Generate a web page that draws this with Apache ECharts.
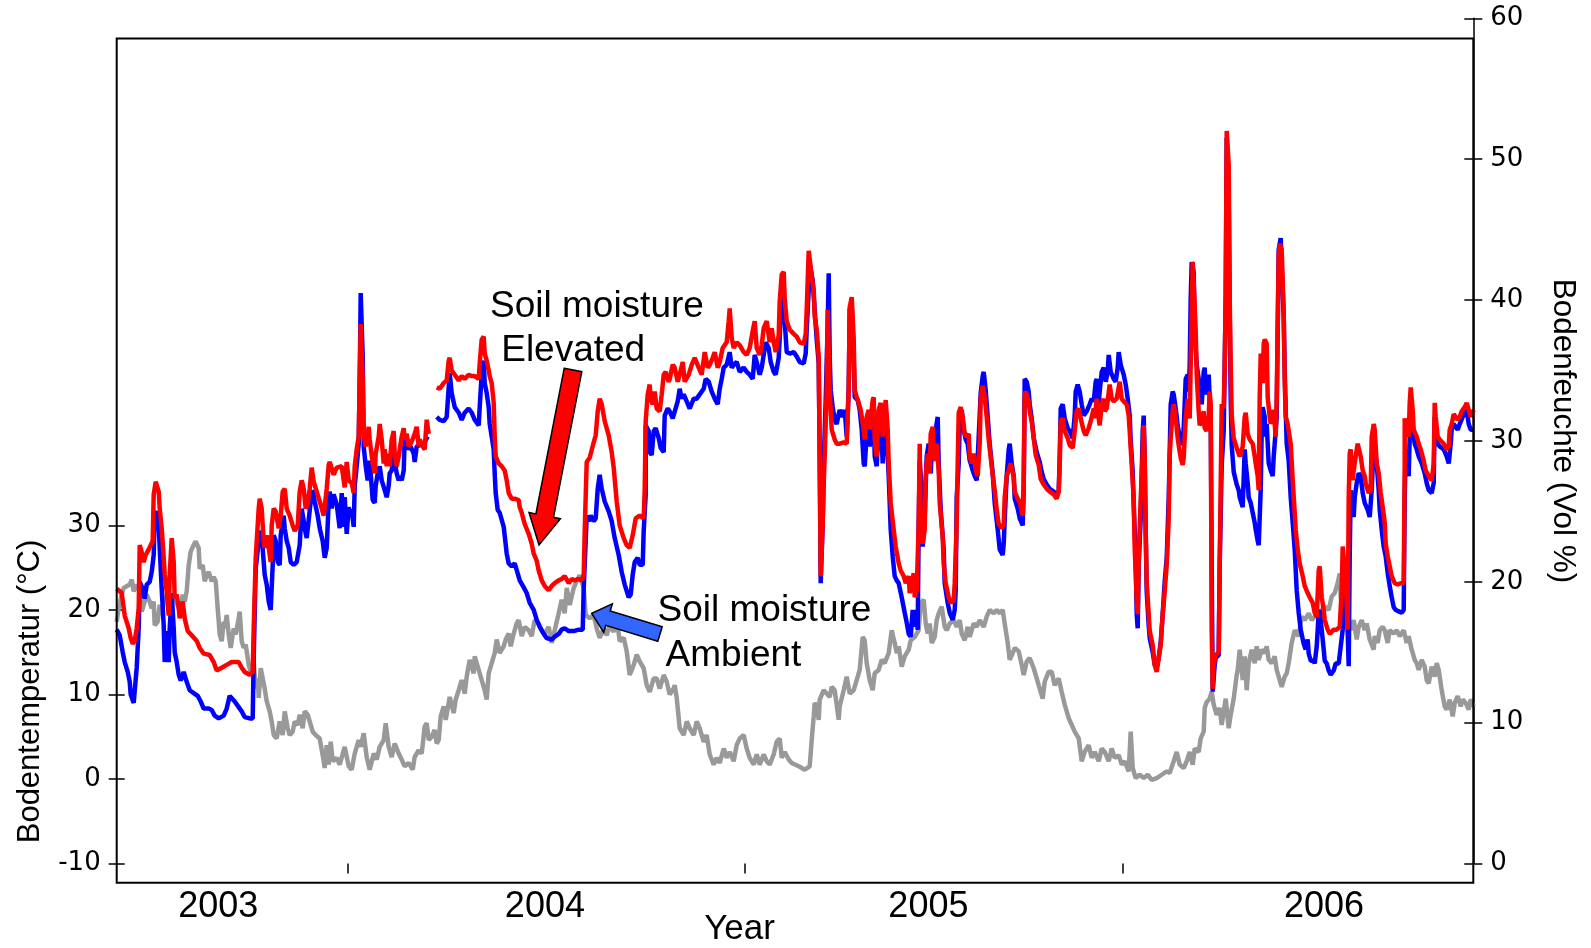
<!DOCTYPE html>
<html>
<head>
<meta charset="utf-8">
<script src="https://cdn.jsdelivr.net/npm/echarts@6/dist/echarts.min.js"></script>
<style>
  html, body { margin: 0; padding: 0; background: #fff; }
  #chart { width: 1591px; height: 948px; }
</style>
</head>
<body>
<div id="chart"></div>
<script>
// x = day index from start of record
const yearTickDays = [231.3, 628.1, 1006.5];
const yearLabelDays = [101.5, 428.2, 811.7, 1207.4];
const yearNames = ['2003', '2004', '2005', '2006'];
const tempTicks = [-10, 0, 10, 20, 30];

// soil temperature (°C), left axis
const soilTemp = [
  [0,18.6],[2,20.2],[5,21.8],[7,22.6],[10,22.8],[13,23.0],[15,23.6],[17,22.2],[20,23.0],[23,22.2],[25,19.8],[27,20.6],
  [30,21.8],[33,21.0],[35,20.2],[37,21.0],[38,18.2],[41,18.6],[43,20.6],[45,19.4],[47,21.0],[50,21.8],[53,20.6],[55,21.4],
  [57,21.8],[59,21.2],[62,20.2],[64,20.6],[66,21.8],[68,21.0],[70,22.2],[72,25.3],[74,26.9],[77,27.7],[79,28.1],[82,27.3],
  [83,24.9],[86,25.3],[88,23.4],[90,24.1],[92,24.5],[95,23.4],[97,23.9],[99,23.4],[101,20.2],[103,17.1],[105,16.3],[107,18.6],
  [108,17.8],[110,19.4],[112,17.1],[114,15.5],[117,17.8],[119,17.1],[122,19.0],[123,19.8],[125,16.3],[127,15.5],[129,15.9],
  [132,13.5],[134,12.7],[137,13.9],[139,10.7],[141,11.9],[142,9.6],[144,13.1],[146,13.3],[148,10.7],[150,9.2],[153,8.0],
  [155,6.8],[157,5.2],[160,4.8],[163,6.8],[166,5.2],[168,8.0],[171,6.0],[173,5.2],[176,5.6],[178,6.8],[181,6.4],[183,7.6],
  [186,6.0],[188,8.0],[191,7.6],[193,6.8],[196,5.6],[199,5.2],[203,4.8],[207,2.1],[208,1.3],[210,4.0],[212,1.7],[214,4.4],
  [216,2.1],[220,2.5],[223,1.7],[225,1.9],[228,3.8],[232,1.5],[235,1.1],[238,3.0],[242,4.6],[244,3.8],[247,5.4],[250,2.6],
  [253,1.1],[257,3.0],[260,2.3],[263,3.8],[267,4.6],[269,6.6],[272,3.8],[275,2.6],[278,4.2],[282,3.0],[285,2.3],[288,1.5],
  [292,1.9],[296,1.1],[298,2.6],[302,3.4],[305,3.0],[308,6.2],[310,6.6],[312,4.6],[315,5.0],[318,5.8],[320,4.2],[322,4.6],
  [324,7.4],[327,8.6],[329,7.0],[332,9.0],[333,9.7],[337,7.8],[339,9.4],[342,10.5],[345,11.7],[348,10.1],[350,12.1],
  [353,14.1],[357,12.5],[358,14.5],[362,12.9],[365,11.7],[368,10.5],[370,9.4],[372,12.5],[375,13.7],[378,14.9],[380,16.5],
  [383,14.9],[387,15.7],[389,16.5],[392,17.2],[394,15.7],[397,17.2],[400,18.4],[402,18.8],[405,16.9],[408,18.0],[412,17.6],
  [415,16.9],[418,18.8],[422,18.4],[425,17.6],[428,17.2],[432,18.0],[435,16.1],[438,17.6],[442,19.6],[445,21.2],[448,19.6],
  [450,22.6],[453,20.6],[457,22.6],[460,23.4],[463,24.1],[467,22.6],[469,19.4],[473,19.0],[477,19.4],[480,17.8],[483,16.7],
  [487,17.8],[490,17.0],[493,18.2],[497,17.4],[500,19.0],[503,16.3],[507,16.7],[510,15.1],[513,12.3],[517,13.5],[520,14.7],
  [523,13.9],[527,13.1],[530,11.1],[533,10.3],[537,11.9],[540,11.9],[543,10.7],[547,12.3],[550,11.5],[553,10.0],[557,10.7],
  [558,11.1],[560,9.6],[563,6.0],[567,5.2],[570,6.8],[573,6.0],[577,5.2],[580,6.8],[583,6.0],[587,4.4],[590,5.2],[593,2.9],
  [597,1.7],[600,2.5],[603,1.9],[607,3.6],[610,2.5],[613,3.2],[617,2.1],[620,4.0],[623,4.8],[627,5.2],[630,3.6],[633,2.5],
  [637,1.7],[640,2.9],[643,1.7],[647,2.9],[650,2.1],[653,1.7],[657,2.9],[660,4.4],[663,4.8],[665,2.5],[668,3.2],[672,2.3],
  [675,1.9],[682,1.5],[688,1.1],[693,1.5],[695,4.6],[697,7.4],[698,9.0],[700,8.6],[702,7.0],[703,9.4],[707,10.5],[710,10.1],
  [713,9.7],[715,10.9],[718,10.5],[722,7.0],[723,8.6],[727,10.5],[730,12.1],[733,10.1],[737,10.5],[740,11.7],[743,12.9],
  [746,16.8],[748,16.4],[750,13.7],[753,11.7],[756,10.5],[758,12.5],[762,12.9],[765,14.1],[768,13.7],[772,14.9],[775,17.6],
  [778,16.1],[780,14.9],[782,15.7],[785,13.3],[788,14.5],[792,15.3],[794,16.4],[798,16.8],[802,17.6],[804,20.8],[807,21.2],
  [809,18.4],[811,17.2],[813,18.4],[815,16.1],[818,16.8],[820,18.8],[822,19.6],[825,20.4],[828,18.0],[830,17.6],[833,18.4],
  [837,18.8],[840,18.0],[843,18.8],[845,17.2],[848,16.4],[851,18.0],[853,16.8],[857,18.4],[860,18.0],[863,18.8],[867,18.0],
  [870,19.2],[873,20.0],[877,19.6],[880,20.0],[883,19.6],[886,20.0],[888,18.4],[891,16.1],[893,14.1],[896,14.9],[898,15.5],
  [902,15.1],[905,13.5],[907,12.3],[910,13.9],[913,14.3],[917,13.1],[920,11.9],[923,10.7],[926,9.5],[928,11.5],[932,12.7],
  [935,12.7],[938,11.1],[942,11.9],[945,10.3],[948,8.8],[952,7.2],[955,6.4],[958,5.6],[962,4.8],[965,2.1],[968,3.2],[972,4.0],
  [975,2.5],[978,3.2],[982,2.1],[985,3.6],[988,3.2],[992,2.1],[995,3.6],[998,2.5],[1002,2.8],[1005,1.7],[1008,2.1],
  [1012,0.9],[1014,5.6],[1016,1.3],[1019,0.1],[1023,0.5],[1027,0.1],[1031,0.5],[1035,-0.1],[1040,0.1],[1045,0.5],[1050,0.9],
  [1053,0.7],[1057,2.1],[1060,3.2],[1063,1.7],[1067,1.3],[1070,2.1],[1073,3.2],[1076,1.7],[1078,3.6],[1082,3.2],[1084,4.8],
  [1087,5.6],[1088,8.4],[1090,9.1],[1093,9.5],[1095,10.3],[1097,8.8],[1100,7.6],[1103,8.4],[1105,6.4],[1107,8.0],[1109,9.5],
  [1112,6.0],[1114,7.6],[1117,9.5],[1120,12.3],[1121,12.9],[1123,15.3],[1126,11.7],[1128,14.5],[1130,10.5],[1132,13.7],
  [1135,15.3],[1138,13.7],[1140,15.7],[1142,14.1],[1145,15.3],[1148,14.9],[1150,15.7],[1152,14.1],[1155,13.7],[1158,14.5],
  [1160,12.9],[1162,12.1],[1165,10.9],[1168,12.1],[1170,12.5],[1172,13.7],[1175,16.1],[1178,17.6],[1180,17.6],[1182,16.9],
  [1185,19.2],[1188,18.8],[1192,19.6],[1195,18.8],[1198,19.2],[1202,19.6],[1205,20.0],[1208,20.4],[1212,20.0],[1215,21.6],
  [1218,22.0],[1221,23.2],[1223,24.3],[1224,21.6],[1227,18.8],[1229,19.6],[1232,18.4],[1234,17.6],[1237,18.8],[1240,16.5],
  [1242,18.0],[1245,18.8],[1248,17.6],[1250,18.4],[1253,16.5],[1257,15.3],[1258,16.9],[1261,16.1],[1263,17.6],[1266,18.0],
  [1268,17.6],[1271,16.1],[1273,17.6],[1277,17.2],[1280,17.6],[1283,16.9],[1287,17.6],[1290,16.1],[1292,16.9],[1295,15.3],
  [1298,14.1],[1300,13.7],[1302,12.9],[1305,14.1],[1308,13.3],[1310,11.7],[1312,11.3],[1315,13.3],[1318,12.1],[1320,13.7],
  [1322,12.9],[1325,10.5],[1328,8.6],[1330,8.2],[1333,9.4],[1336,7.4],[1338,9.0],[1341,9.8],[1344,8.6],[1346,9.4],
  [1349,9.0],[1352,8.2],[1354,9.4],[1357,8.6]
];

// soil moisture, ambient plots (Vol %), right axis; null = no data
const moistAmbient = [
  [0,16.6],[3,16.2],[6,15.0],[8,14.3],[11,13.6],[13,12.9],[14,12.0],[17,11.4],[19,11.4],[20,13.9],[22,16.7],[23,20.0],
  [26,19.5],[28,18.8],[30,19.8],[33,20.0],[35,20.7],[37,21.9],[38,24.7],[40,25.0],[42,24.0],[43,22.4],[45,19.5],[47,16.9],
  [48,14.3],[50,16.5],[52,14.3],[53,16.7],[55,19.2],[57,16.7],[58,15.0],[60,14.3],[62,13.4],[64,13.0],[67,13.6],[70,12.9],
  [73,12.3],[77,12.1],[81,11.9],[84,11.5],[87,11.0],[92,11.0],[95,10.9],[98,10.5],[102,10.3],[107,10.5],[110,11.0],
  [113,11.9],[115,11.9],[118,11.5],[122,11.1],[125,10.8],[128,10.4],[133,10.3],[136,10.3],[137,14.6],[139,20.9],[142,22.9],
  [143,23.6],[145,23.3],[147,21.4],[148,20.5],[150,19.8],[152,18.6],[154,18.0],[156,21.2],[157,23.3],[159,22.9],[161,21.4],
  [163,21.2],[164,23.3],[167,24.7],[168,23.8],[170,22.9],[172,22.4],[174,21.4],[177,21.2],[180,21.4],[183,22.6],[185,25.2],
  [187,24.3],[188,23.8],[190,23.1],[192,23.1],[194,25.7],[196,26.5],[198,25.7],[201,24.7],[203,23.8],[206,22.9],[208,21.7],
  [210,22.4],[212,25.7],[213,26.4],[215,25.2],[217,26.2],[220,25.5],[223,23.8],[225,26.3],[227,23.9],[228,26.0],[230,23.4],
  [232,25.3],[233,24.9],[235,25.1],[237,23.9],[238,26.8],[240,28.2],[242,29.8],[243,34.3],[244,40.5],[246,36.0],[247,29.6],
  [249,28.2],[251,27.2],[253,28.6],[254,27.7],[256,25.8],[258,25.6],[259,26.8],[261,27.7],[263,28.2],[265,27.2],[268,26.5],
  [270,26.0],[272,26.8],[273,27.7],[275,27.9],[277,29.1],[278,28.6],[280,27.7],[282,27.2],[283,27.5],[285,27.2],[287,27.9],
  [288,30.1],[290,29.8],[292,29.4],[294,29.6],[297,29.1],[298,28.5],[300,29.6],[303,29.7],[307,29.8],[308,29.7],[311,30.3],
  [316,null],[320,31.7],[323,31.5],[327,31.4],[330,31.7],[332,33.8],[333,34.8],[335,33.4],[338,32.4],[342,32.0],[345,31.5],
  [348,32.0],[352,32.3],[355,32.0],[358,31.5],[362,31.1],[363,32.4],[365,34.8],[367,35.7],[368,34.1],[370,33.4],[372,32.4],
  [373,31.2],[375,30.3],[377,29.4],[378,27.7],[379,26.3],[381,25.1],[383,24.9],[387,23.9],[390,22.0],[392,21.3],[395,21.1],
  [398,21.3],[401,20.6],[403,20.1],[407,19.6],[410,19.2],[413,18.5],[417,18.0],[420,17.3],[423,16.8],[427,16.3],[430,16.0],
  [435,15.9],[438,16.1],[442,16.3],[445,16.6],[448,16.7],[452,16.5],[457,16.5],[462,16.6],[466,16.6],[467,19.5],[469,22.9],
  [470,24.7],[472,24.3],[474,24.7],[477,24.3],[479,24.5],[481,26.6],[483,27.6],[485,26.6],[488,25.7],[492,25.0],[495,24.3],
  [498,23.1],[502,21.9],[505,20.7],[508,19.8],[512,18.9],[514,19.1],[516,20.5],[518,21.4],[521,21.7],[523,21.2],[526,21.2],
  [527,23.6],[529,26.2],[529,31.1],[532,30.7],[533,29.2],[535,29.0],[537,30.7],[539,30.9],[542,30.2],[544,29.5],[547,29.2],
  [548,31.8],[551,32.3],[553,32.1],[556,31.6],[558,31.6],[561,32.8],[563,33.7],[565,33.0],[567,33.3],[570,32.8],[573,32.3],
  [577,33.0],[580,33.0],[583,33.3],[587,33.7],[589,34.4],[592,34.2],[595,33.5],[598,33.0],[601,32.6],[603,33.7],[605,34.4],
  [607,35.2],[610,35.4],[613,36.3],[615,35.2],[617,35.4],[620,35.6],[623,34.9],[627,35.2],[630,34.9],[633,34.7],[636,34.4],
  [638,36.1],[640,35.6],[643,34.7],[645,35.2],[647,36.1],[649,37.0],[652,36.6],[654,35.6],[657,34.9],[659,34.7],[662,35.9],
  [663,37.3],[665,40.8],[667,40.6],[668,38.5],[670,36.3],[673,36.2],[677,36.3],[680,36.0],[683,35.6],[687,35.5],[689,36.2],
  [690,37.9],[692,40.7],[693,42.6],[696,41.4],[698,39.3],[700,37.2],[702,35.5],[703,28.9],[704,19.9],[706,24.1],[707,28.4],
  [709,32.9],[711,38.3],[712,41.9],[713,36.0],[714,33.6],[716,32.4],[718,31.5],[720,31.2],[722,31.9],[723,32.2],[726,31.7],
  [728,32.2],[730,30.3],[732,33.6],[733,39.3],[735,39.8],[737,36.0],[738,33.1],[741,32.9],[743,32.2],[745,30.8],[747,28.4],
  [748,28.2],[750,30.5],[752,31.5],[753,29.6],[755,30.8],[757,32.2],[758,28.9],[760,28.2],[762,31.2],[764,31.7],[766,28.4],
  [768,30.8],[769,32.4],[770,30.5],[772,27.5],[774,23.7],[776,21.8],[778,20.4],[780,20.1],[782,19.9],[785,18.9],[788,17.8],
  [790,17.1],[792,16.3],[794,16.1],[796,18.0],[798,16.8],[799,18.0],[801,16.6],[802,24.1],[803,28.6],[805,26.5],[806,22.5],
  [808,24.6],[810,28.9],[812,29.8],[814,27.7],[816,30.5],[817,29.1],[819,30.8],[821,31.7],[822,28.4],[824,25.1],[827,22.3],
  [828,19.9],[831,18.5],[833,17.8],[836,17.3],[838,18.0],[839,19.4],[840,26.0],[842,28.4],[843,31.0],[845,32.2],[847,30.8],
  [849,30.1],[851,29.8],[853,28.6],[854,28.4],[856,27.9],[858,27.5],[860,27.2],[862,30.3],[864,33.4],[866,34.6],[867,34.9],
  [869,33.6],[871,31.7],[873,29.8],[876,27.7],[878,25.6],[881,23.7],[883,22.3],[886,21.9],[887,22.7],[889,26.0],[890,27.5],
  [892,29.4],[893,29.8],[895,28.4],[897,27.5],[898,25.9],[901,25.2],[903,24.5],[906,24.0],[907,26.6],[908,34.4],[910,34.2],
  [912,33.5],[913,32.6],[915,31.6],[917,30.2],[920,29.2],[923,28.5],[925,27.8],[927,27.3],[930,26.9],[933,26.6],[937,26.4],
  [940,26.2],[942,26.4],[943,28.8],[944,32.3],[946,32.6],[948,31.6],[951,30.9],[953,30.7],[956,30.2],[958,31.8],[959,33.5],
  [961,34.0],[963,33.5],[965,32.6],[967,31.8],[970,32.1],[973,32.6],[975,33.0],[977,32.8],[979,34.2],[980,34.4],[982,32.6],
  [983,33.5],[985,34.9],[987,35.2],[988,34.7],[989,34.2],[991,34.9],[992,36.1],[994,34.9],[997,34.4],[999,34.2],[1001,35.2],
  [1002,36.3],[1004,35.4],[1007,34.7],[1009,34.0],[1011,33.0],[1013,31.8],[1014,30.0],[1016,27.8],[1017,25.5],[1019,21.7],
  [1020,17.7],[1021,16.7],[1022,21.2],[1024,24.5],[1026,30.7],[1027,31.8],[1028,28.8],[1029,23.6],[1030,19.3],[1032,16.9],
  [1033,16.0],[1036,15.0],[1038,14.1],[1040,13.9],[1042,14.6],[1044,15.7],[1046,17.7],[1048,20.0],[1050,21.7],[1052,25.9],
  [1053,29.2],[1054,32.6],[1056,33.5],[1057,33.3],[1059,32.3],[1061,31.1],[1062,30.7],[1064,30.2],[1066,29.7],[1067,30.9],
  [1069,34.4],[1071,34.7],[1072,33.5],[1073,35.4],[1074,40.1],[1075,42.7],[1077,42.0],[1078,37.8],[1080,35.4],[1082,34.4],
  [1083,33.5],[1085,32.6],[1087,34.9],[1088,35.2],[1089,33.3],[1091,34.0],[1092,34.7],[1093,33.0],[1094,32.1],[1095,21.2],
  [1096,12.2],[1098,14.1],[1099,14.6],[1102,14.8],[1103,21.2],[1105,28.3],[1107,30.7],[1108,35.4],[1109,40.1],[1110,51.5],
  [1112,47.2],[1113,38.9],[1114,33.0],[1115,29.7],[1117,27.8],[1120,26.9],[1122,26.5],[1123,26.0],[1126,25.3],[1128,29.4],
  [1129,28.4],[1131,27.0],[1132,26.0],[1134,25.6],[1136,24.9],[1138,24.2],[1139,23.7],[1141,22.9],[1142,22.6],[1144,26.5],
  [1145,30.8],[1146,32.4],[1148,31.7],[1149,30.3],[1150,31.2],[1152,28.4],[1154,27.9],[1156,27.5],[1157,28.9],[1158,29.8],
  [1160,31.7],[1161,37.9],[1162,43.6],[1164,44.4],[1165,44.5],[1167,38.8],[1168,35.0],[1169,32.2],[1170,29.8],[1172,28.6],
  [1174,26.0],[1176,24.2],[1178,22.3],[1180,19.4],[1182,17.8],[1184,16.6],[1187,15.6],[1189,15.2],[1191,15.9],[1192,14.9],
  [1194,14.4],[1197,14.4],[1198,14.2],[1200,15.4],[1202,17.8],[1203,18.0],[1205,16.6],[1207,15.2],[1208,14.4],[1210,14.2],
  [1212,13.7],[1214,13.4],[1217,13.7],[1219,14.2],[1222,14.2],[1224,14.2],[1226,16.6],[1227,21.1],[1228,20.8],[1230,18.9],
  [1232,14.0],[1233,21.8],[1234,26.5],[1235,25.1],[1237,24.6],[1238,26.0],[1240,27.0],[1242,27.7],[1244,27.5],[1246,26.3],
  [1248,25.6],[1251,25.1],[1253,24.6],[1255,26.5],[1257,29.8],[1258,29.4],[1260,28.4],[1262,26.5],[1263,25.1],[1265,23.7],
  [1267,22.5],[1269,21.8],[1271,20.6],[1273,19.7],[1275,18.9],[1277,18.2],[1279,18.0],[1282,17.9],[1285,17.8],[1287,18.0],
  [1288,26.0],[1289,29.4],[1290,28.4],[1292,27.5],[1293,30.3],[1294,32.2],[1296,30.8],[1298,29.8],[1300,29.4],[1302,28.9],
  [1305,28.4],[1308,27.7],[1310,27.0],[1312,26.5],[1315,26.3],[1317,27.0],[1318,31.7],[1319,30.8],[1321,29.8],[1323,29.6],
  [1327,29.4],[1330,28.9],[1332,28.4],[1334,29.8],[1335,30.8],[1337,31.2],[1339,31.2],[1341,30.8],[1343,31.2],[1346,31.7],
  [1348,31.7],[1350,32.2],[1352,31.2],[1354,30.8],[1357,30.8]
];

// soil moisture, elevated plots (Vol %), right axis; null = no data
const moistElevated = [
  [0,19.5],[5,19.2],[8,17.6],[12,16.7],[14,16.0],[16,15.6],[18,15.8],[20,16.7],[22,18.1],[23,22.6],[25,22.1],[27,21.4],
  [29,21.9],[32,22.3],[34,22.6],[36,22.9],[37,26.2],[39,27.1],[42,26.4],[43,25.2],[45,23.8],[47,21.7],[48,20.5],[50,19.3],
  [52,17.6],[53,20.5],[55,23.1],[57,21.4],[58,18.8],[60,19.1],[62,18.1],[63,17.4],[66,18.6],[68,17.4],[71,16.5],[75,16.2],
  [80,15.8],[83,15.3],[87,14.9],[93,14.8],[97,14.3],[100,13.7],[105,13.9],[110,14.1],[115,14.3],[122,14.3],[125,13.9],
  [128,13.6],[133,13.4],[136,13.6],[137,16.7],[139,21.7],[142,25.2],[143,25.9],[145,25.2],[147,22.9],[148,22.4],[150,23.3],
  [152,22.4],[154,21.4],[155,24.0],[157,25.2],[159,25.0],[162,23.8],[164,24.7],[166,26.4],[168,26.6],[170,25.2],[173,24.7],
  [176,24.0],[178,23.6],[181,24.0],[183,26.4],[185,27.2],[187,26.6],[189,25.2],[191,25.5],[193,26.6],[195,28.1],[197,27.1],
  [200,26.4],[203,25.7],[207,24.7],[210,26.6],[212,28.3],[213,28.5],[217,27.6],[220,28.1],[225,28.2],[228,26.7],[230,28.5],
  [232,27.2],[235,27.0],[237,26.3],[238,28.2],[240,29.4],[242,30.3],[243,34.3],[244,38.3],[246,34.3],[247,30.5],[249,29.6],
  [252,31.0],[253,30.1],[256,28.4],[258,27.7],[259,29.1],[262,30.3],[263,31.2],[265,30.1],[267,28.4],[268,29.4],[270,28.2],
  [272,29.1],[273,28.2],[275,30.1],[277,30.7],[278,29.1],[280,28.2],[282,28.9],[283,29.4],[285,30.3],[287,30.9],[288,30.1],
  [290,30.5],[292,29.6],[294,29.8],[297,30.3],[298,30.5],[300,31.0],[302,29.6],[303,30.1],[306,29.6],[308,29.4],[310,31.5],
  [312,30.5],[316,null],[320,33.8],[323,33.7],[327,34.1],[330,34.3],[332,35.7],[333,35.9],[335,35.0],[338,34.7],[342,34.3],
  [345,34.6],[348,34.4],[352,34.7],[355,34.6],[358,34.6],[362,34.4],[363,35.5],[365,37.2],[367,37.4],[368,36.2],[370,35.7],
  [372,35.0],[373,34.6],[375,34.1],[377,32.7],[378,30.3],[379,28.9],[382,28.4],[385,28.2],[388,27.9],[390,27.2],[392,26.3],
  [395,25.9],[398,25.9],[402,25.8],[403,25.3],[405,24.9],[408,24.1],[412,23.4],[415,22.7],[417,22.0],[420,21.5],[422,20.8],
  [425,20.1],[428,19.7],[432,19.4],[435,19.7],[438,19.9],[442,20.1],[445,20.2],[448,20.4],[452,19.9],[455,20.2],[458,20.1],
  [462,20.2],[465,20.1],[467,20.5],[468,23.6],[470,28.5],[473,28.8],[477,29.9],[479,30.4],[481,32.1],[483,33.0],[485,32.6],
  [488,31.4],[492,30.4],[495,29.2],[497,28.1],[500,25.7],[503,24.0],[507,23.1],[510,22.6],[513,22.4],[516,23.3],[519,24.5],
  [523,24.7],[527,24.5],[528,26.6],[529,31.4],[531,33.3],[533,34.0],[534,33.0],[536,32.6],[538,33.5],[540,32.3],[543,32.1],
  [545,33.3],[547,34.7],[549,34.9],[552,34.2],[553,34.4],[556,35.4],[558,35.2],[561,34.2],[563,34.7],[566,35.6],[568,34.2],
  [572,34.7],[575,35.4],[578,35.9],[582,35.2],[585,34.7],[588,36.3],[591,35.2],[593,35.4],[596,35.9],[598,36.3],[601,35.2],
  [603,35.6],[606,36.6],[608,36.8],[610,37.0],[612,38.5],[613,39.4],[615,37.3],[617,36.6],[620,37.0],[623,36.8],[627,36.3],
  [630,36.1],[633,36.6],[636,37.8],[638,38.5],[640,36.6],[643,36.1],[645,36.8],[647,38.0],[650,38.5],[653,37.0],[655,38.0],
  [657,37.0],[659,36.3],[662,37.5],[663,39.9],[665,41.8],[667,42.0],[668,40.1],[670,38.5],[673,37.9],[677,37.6],[680,37.4],
  [683,37.0],[687,36.9],[689,37.6],[690,39.3],[692,43.5],[695,41.7],[697,40.7],[698,38.8],[700,37.9],[702,36.0],[703,28.9],
  [704,20.4],[706,24.1],[707,27.0],[708,28.9],[710,33.6],[711,39.3],[713,33.6],[715,30.8],[718,30.1],[720,29.8],[723,29.8],
  [727,29.9],[730,29.8],[732,33.6],[733,39.5],[735,40.2],[737,37.2],[738,33.6],[740,33.1],[742,32.7],[744,32.2],[747,30.8],
  [748,30.1],[750,31.7],[752,32.2],[753,30.8],[756,32.9],[757,33.1],[758,30.1],[760,28.9],[762,32.2],[764,32.7],[766,30.3],
  [768,32.2],[769,32.9],[771,30.8],[772,28.4],[774,25.6],[777,23.7],[779,22.5],[782,21.3],[784,20.8],[787,20.4],[789,19.9],
  [792,20.4],[793,19.2],[795,19.9],[797,20.6],[798,18.9],[800,19.4],[802,24.1],[803,29.8],[804,24.1],[806,22.7],[808,23.7],
  [809,27.5],[811,29.1],[813,27.7],[814,30.5],[816,31.0],[817,28.9],[819,28.6],[820,29.8],[822,27.9],[823,25.6],[826,23.2],
  [827,21.3],[829,19.9],[832,18.9],[834,18.5],[837,18.7],[838,19.9],[840,24.1],[841,28.4],[842,32.0],[844,32.4],[846,31.7],
  [848,30.5],[850,30.3],[852,30.5],[853,28.9],[855,28.4],[857,29.1],[859,27.9],[861,27.5],[863,29.8],[864,33.1],[866,33.9],
  [867,34.0],[868,33.1],[870,31.7],[872,30.1],[875,28.2],[878,26.5],[880,25.1],[882,24.1],[885,23.8],[887,24.1],[888,26.0],
  [890,27.5],[892,27.9],[894,28.4],[897,27.5],[898,26.4],[901,25.9],[903,25.7],[906,24.7],[907,26.9],[908,33.3],[909,33.5],
  [912,32.8],[913,32.1],[915,31.4],[917,30.2],[919,29.0],[922,28.3],[924,27.3],[927,26.9],[930,26.6],[933,26.4],[937,26.2],
  [940,25.9],[942,26.4],[943,28.3],[944,31.4],[946,31.6],[948,30.7],[951,30.2],[953,29.7],[956,29.5],[958,30.7],[960,32.1],
  [962,32.3],[964,31.6],[967,30.7],[969,30.4],[972,30.9],[974,31.4],[977,32.3],[978,31.6],[980,33.0],[982,31.6],[983,31.1],
  [985,32.6],[987,33.0],[988,32.1],[990,32.3],[993,34.0],[995,33.0],[997,32.8],[1000,33.0],[1003,34.2],[1005,33.0],
  [1007,32.8],[1010,32.6],[1012,31.8],[1013,30.7],[1015,28.3],[1017,25.9],[1018,22.4],[1020,18.8],[1021,17.7],[1022,21.7],
  [1024,25.9],[1026,29.2],[1027,31.1],[1028,28.8],[1029,23.6],[1030,20.0],[1032,17.7],[1033,16.5],[1036,15.5],[1038,14.1],
  [1040,13.6],[1042,14.6],[1044,15.5],[1046,17.7],[1048,19.3],[1050,21.2],[1052,24.5],[1053,29.0],[1054,30.2],[1056,32.1],
  [1057,32.6],[1059,31.6],[1061,30.2],[1062,29.7],[1064,28.8],[1066,28.3],[1067,28.8],[1069,31.6],[1071,33.0],[1072,32.1],
  [1073,31.6],[1074,35.4],[1076,42.7],[1077,41.3],[1079,37.8],[1080,34.7],[1082,32.1],[1083,31.1],[1085,31.4],[1087,32.1],
  [1088,30.9],[1090,30.7],[1092,31.8],[1093,33.5],[1094,32.6],[1095,16.5],[1096,12.4],[1097,14.1],[1099,14.8],[1102,15.0],
  [1103,21.2],[1105,32.6],[1107,32.3],[1108,35.4],[1109,40.1],[1110,52.0],[1112,49.6],[1113,40.1],[1114,35.4],[1115,31.8],
  [1117,30.2],[1120,29.5],[1123,28.9],[1126,29.6],[1128,31.7],[1129,32.0],[1131,30.5],[1133,30.1],[1136,29.8],[1138,28.9],
  [1139,28.4],[1141,27.5],[1142,26.5],[1143,33.1],[1144,36.2],[1146,34.1],[1147,36.9],[1148,37.2],[1150,36.9],[1151,33.1],
  [1153,31.7],[1154,31.2],[1156,32.2],[1158,31.2],[1159,30.3],[1160,33.1],[1162,43.1],[1163,44.0],[1165,43.6],[1167,39.1],
  [1168,34.3],[1169,31.7],[1171,31.2],[1173,31.2],[1174,29.8],[1176,27.2],[1178,24.9],[1179,23.7],[1181,22.3],[1183,21.3],
  [1186,20.4],[1188,19.7],[1191,19.2],[1193,18.9],[1196,18.5],[1198,17.8],[1200,17.5],[1202,20.8],[1203,21.1],[1205,18.9],
  [1207,18.0],[1208,17.3],[1211,16.6],[1213,16.3],[1217,16.6],[1220,16.6],[1223,16.8],[1225,19.4],[1226,22.5],[1228,22.5],
  [1229,20.1],[1231,16.6],[1232,26.0],[1233,29.1],[1234,29.4],[1236,27.2],[1237,27.9],[1239,28.9],[1241,29.8],[1243,29.8],
  [1244,28.9],[1246,27.9],[1248,27.5],[1249,27.0],[1251,26.5],[1252,26.3],[1254,26.5],[1255,30.3],[1257,31.2],[1258,30.8],
  [1260,28.4],[1262,27.7],[1264,26.3],[1266,25.3],[1268,24.2],[1269,22.7],[1271,21.8],[1273,21.1],[1275,20.4],[1278,19.9],
  [1281,19.8],[1284,19.9],[1287,19.9],[1288,28.4],[1288,31.6],[1290,30.8],[1292,30.3],[1293,32.7],[1294,33.8],[1296,32.2],
  [1297,30.8],[1300,30.3],[1302,29.8],[1304,29.4],[1307,28.6],[1309,27.9],[1312,27.5],[1315,27.2],[1317,28.4],[1318,32.7],
  [1319,31.7],[1321,30.3],[1323,30.1],[1327,29.8],[1330,29.4],[1332,29.6],[1333,30.8],[1335,31.2],[1337,31.9],[1339,31.7],
  [1341,31.5],[1343,31.7],[1345,32.1],[1348,32.4],[1350,32.7],[1352,32.2],[1354,31.7],[1357,32.2]
];

const toLine = arr => arr.map(p => [p[0], p[1] === null ? '-' : p[1]]);

const txtFont = '"Liberation Sans", Arial, Helvetica, sans-serif';
const tickFont = '"DejaVu Sans", sans-serif';

const chart = echarts.init(document.getElementById('chart'), null, { renderer: 'canvas' });

chart.setOption({
  animation: false,
  backgroundColor: '#fff',
  grid: { left: 116.7, right: 117.7, top: 18.3, bottom: 84.5, outerBoundsMode: 'none' },
  xAxis: {
    type: 'value',
    min: 0,
    max: 1356.6,
    axisLine: { show: false, onZero: false },
    splitLine: { show: false },
    axisTick: { show: true, customValues: yearTickDays, length: 10, lineStyle: { color: '#000', width: 1.5 } },
    axisLabel: {
      customValues: yearLabelDays,
      formatter: v => {
        const i = yearLabelDays.findIndex(p => Math.abs(p - v) < 0.5);
        return i >= 0 ? yearNames[i] : '';
      },
      margin: 43.5,
      verticalAlign: 'middle',
      fontSize: 36,
      fontFamily: txtFont,
      color: '#000'
    }
  },
  yAxis: [
    {
      type: 'value', position: 'left', min: -10, max: 90, interval: 10,
      axisLine: { show: false }, splitLine: { show: false },
      axisTick: { customValues: tempTicks, length: 8, lineStyle: { color: '#000', width: 1.5 } },
      axisLabel: { customValues: tempTicks, margin: 16, fontSize: 26, fontFamily: tickFont, color: '#000' }
    },
    {
      type: 'value', position: 'right', min: 0, max: 60, interval: 10,
      axisLine: { show: true, lineStyle: { color: '#000', width: 1.5 } }, splitLine: { show: false },
      axisTick: { length: 9, lineStyle: { color: '#000', width: 1.5 } },
      axisLabel: { margin: 17, fontSize: 26, fontFamily: tickFont, color: '#000' }
    },
    {
      type: 'value', position: 'left', min: -10, max: 90, interval: 10,
      axisLine: { show: false }, splitLine: { show: false }, axisLabel: { show: false },
      axisTick: { inside: true, customValues: tempTicks, length: 8, lineStyle: { color: '#000', width: 1.5 } }
    },
    {
      type: 'value', position: 'right', min: 0, max: 60, interval: 10,
      axisLine: { show: false }, splitLine: { show: false }, axisLabel: { show: false },
      axisTick: { inside: true, length: 9, lineStyle: { color: '#000', width: 1.5 } }
    }
  ],
  series: [
    {
      name: 'Bodentemperatur', type: 'line', yAxisIndex: 0, data: toLine(soilTemp),
      showSymbol: false, lineStyle: { color: '#999999', width: 4.5 }, z: 2
    },
    {
      name: 'Soil moisture Ambient', type: 'line', yAxisIndex: 1, data: toLine(moistAmbient),
      showSymbol: false, connectNulls: false, lineStyle: { color: '#0000ff', width: 4.5 }, z: 3
    },
    {
      name: 'Soil moisture Elevated', type: 'line', yAxisIndex: 1, data: toLine(moistElevated),
      showSymbol: false, connectNulls: false, lineStyle: { color: '#ff0000', width: 4.5 }, z: 4
    }
  ],
  graphic: [
    // plot frame
    { type: 'rect', z: 100, shape: { x: 116.7, y: 38.6, width: 1356.6, height: 844.2 },
      style: { fill: 'none', stroke: '#000', lineWidth: 2 } },
    // arrows
    { type: 'polygon', z: 101,
      shape: { points: [[564.2,368.3],[581.8,371.7],[553.5,517.3],[560.4,518.7],[539,545],[529,512.5],[535.9,513.9]] },
      style: { fill: '#ff0000', stroke: '#000', lineWidth: 1.5 } },
    { type: 'polygon', z: 101,
      shape: { points: [[662.2,626.8],[610.2,611.0],[612.3,603.9],[591.7,613.3],[603.7,632.5],[605.8,625.4],[657.8,641.2]] },
      style: { fill: '#3366ff', stroke: '#000', lineWidth: 1.5 } },
    // annotation labels
    { type: 'text', z: 102, x: 490, y: 306.5,
      style: { text: 'Soil moisture', font: '37px ' + txtFont, fill: '#000', align: 'left', verticalAlign: 'middle' } },
    { type: 'text', z: 102, x: 501.2, y: 351,
      style: { text: 'Elevated', font: '37px ' + txtFont, fill: '#000', align: 'left', verticalAlign: 'middle' } },
    { type: 'text', z: 102, x: 657.5, y: 610.8,
      style: { text: 'Soil moisture', font: '37px ' + txtFont, fill: '#000', align: 'left', verticalAlign: 'middle' } },
    { type: 'text', z: 102, x: 665.6, y: 655.4,
      style: { text: 'Ambient', font: '37px ' + txtFont, fill: '#000', align: 'left', verticalAlign: 'middle' } },
    // axis titles
    { type: 'text', z: 102, x: 739.6, y: 929,
      style: { text: 'Year', font: '35px ' + txtFont, fill: '#000', align: 'center', verticalAlign: 'middle' } },
    { type: 'text', z: 102, x: 30.5, y: 691.5, rotation: Math.PI / 2,
      style: { text: 'Bodentemperatur (°C)', font: '31px ' + txtFont, fill: '#000', align: 'center', verticalAlign: 'middle' } },
    { type: 'text', z: 102, x: 1562.6, y: 431, rotation: -Math.PI / 2,
      style: { text: 'Bodenfeuchte (Vol %)', font: '31.5px ' + txtFont, fill: '#000', align: 'center', verticalAlign: 'middle' } }
  ]
});
</script>
</body>
</html>
